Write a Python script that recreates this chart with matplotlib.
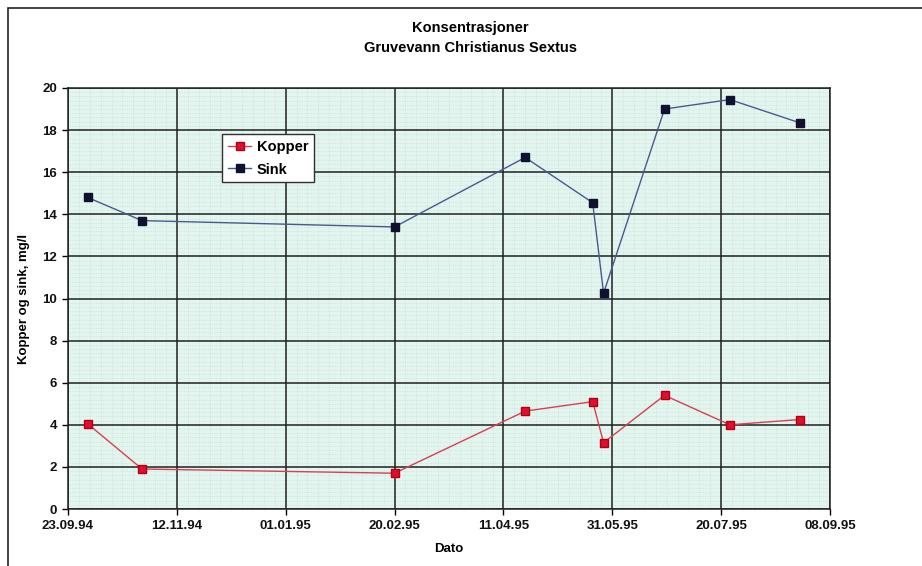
import datetime as dt

import matplotlib
matplotlib.use("Agg")
import matplotlib.pyplot as plt
from matplotlib.lines import Line2D
from matplotlib.patches import Rectangle

# sampling dates and concentrations (mg/l)
dates = ["02.10.94", "27.10.94", "20.02.95", "21.04.95", "22.05.95",
         "27.05.95", "24.06.95", "24.07.95", "25.08.95"]
kopper = [4.05, 1.9, 1.7, 4.65, 5.1, 3.15, 5.4, 4.0, 4.25]
sink = [14.8, 13.7, 13.4, 16.7, 14.55, 10.25, 19.0, 19.45, 18.35]

tick_labels = ["23.09.94", "12.11.94", "01.01.95", "20.02.95",
               "11.04.95", "31.05.95", "20.07.95", "08.09.95"]

plt.rcParams["font.family"] = ["Liberation Sans", "DejaVu Sans"]

x = [dt.datetime.strptime(d, "%d.%m.%y") for d in dates]
ticks = [dt.datetime.strptime(d, "%d.%m.%y") for d in tick_labels]

fig = plt.figure(figsize=(9.22, 5.66), dpi=100)
ax = fig.add_axes([68 / 922, 1 - 509 / 566, (830 - 68) / 922, (509 - 88) / 566])
ax.set_facecolor("#e2f5ee")

# outer chart frame (scanned page edge)
fig.patches.append(Rectangle((8 / 922, -0.01), 1.0, 1 - 8 / 566 + 0.01,
                             transform=fig.transFigure, fill=False,
                             edgecolor="#222222", linewidth=1.2))

red_style = dict(color="#d84050", linewidth=1.0, marker="s", markersize=6,
                 markerfacecolor="#e0102a", markeredgecolor="#b00018")
blue_style = dict(color="#4a5a90", linewidth=1.0, marker="s", markersize=6,
                  markerfacecolor="#101030", markeredgecolor="#101030")

ax.plot(x, kopper, label="Kopper", zorder=3, **red_style)
ax.plot(x, sink, label="Sink", zorder=3, **blue_style)

ax.set_xlim(ticks[0], ticks[-1])
ax.set_ylim(0, 20)
ax.set_xticks(ticks)
ax.set_xticklabels(tick_labels)
ax.set_yticks(range(0, 21, 2))

# fine dotted background grid, kept underneath the major grid
for i in range(71):
    if i % 10:
        ax.axvline(ticks[0] + dt.timedelta(days=5 * i), color="#c4ddd6",
                   linestyle=":", linewidth=0.5, zorder=0.2)
for i in range(101):
    if i % 10:
        ax.axhline(0.2 * i, color="#c4ddd6", linestyle=":", linewidth=0.5,
                   zorder=0.2)
ax.grid(which="major", color="#202020", linewidth=1.1)
ax.set_axisbelow(True)

for s in ax.spines.values():
    s.set_color("#202020")
    s.set_linewidth(1.1)

ax.tick_params(which="major", direction="out", length=4, width=1, pad=4)
for lab in ax.get_xticklabels() + ax.get_yticklabels():
    lab.set_fontweight("bold")
    lab.set_fontsize(9.5)
    lab.set_color("#111111")

ax.set_xlabel("Dato", fontsize=9.5, fontweight="bold", labelpad=8)
ax.set_ylabel("Kopper og sink, mg/l", fontsize=9.5, fontweight="bold", labelpad=9)

fig.text(0.51, 1 - 28 / 566, "Konsentrasjoner", ha="center", va="center",
         fontsize=10.5, fontweight="bold")
fig.text(0.51, 1 - 48 / 566, "Gruvevann Christianus Sextus", ha="center",
         va="center", fontsize=10.5, fontweight="bold")

handles = [Line2D([], [], **red_style), Line2D([], [], **blue_style)]
leg = ax.legend(handles, ["Kopper", "Sink"], loc="upper left",
                bbox_to_anchor=((222 - 68) / 762, (509 - 134) / 421),
                frameon=True, fancybox=False, handlelength=1.6,
                handletextpad=0.4, borderpad=0.4, labelspacing=0.6,
                borderaxespad=0, prop={"weight": "bold", "size": 10.5})
leg.get_frame().set_edgecolor("#303030")
leg.get_frame().set_facecolor("white")
leg.get_frame().set_alpha(1)

fig.savefig("out.png", dpi=100)
